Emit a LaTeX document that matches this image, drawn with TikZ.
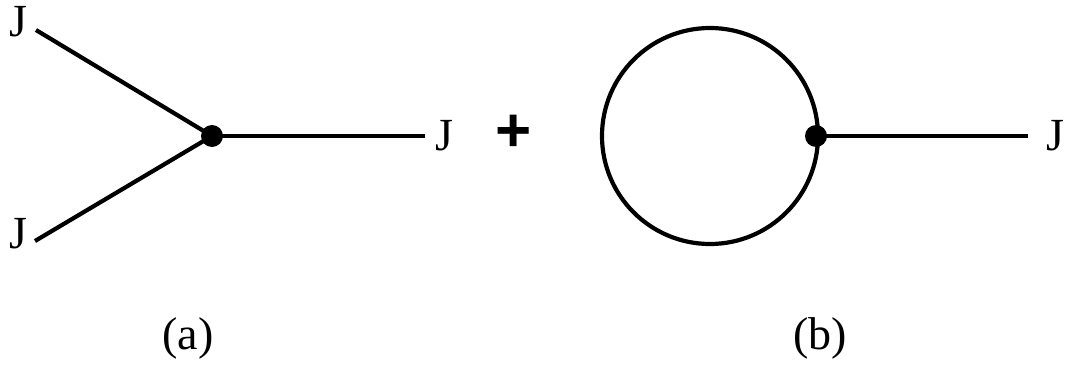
\documentclass[tikz,border=0pt]{standalone}
\usepackage{fontspec}
\setmainfont{Liberation Serif}
\newfontfamily\plusfont{Liberation Sans}
\begin{document}
\begin{tikzpicture}[x=1pt,y=-1pt,
  line/.style={line width=4.2pt},
  vdot/.style={circle,fill=black,inner sep=0pt,minimum size=22pt},
  lab/.style={inner sep=0pt,font=\fontsize{46}{52}\selectfont},
]
\useasboundingbox (0,0) rectangle (1068,367);
% (a)
\node[vdot] (va) at (212,136) {};
\coordinate (a1) at (36,30);
\coordinate (a2) at (35,241);
\coordinate (a3) at (425,136);
\draw[line] (a1) -- (va.center) -- (a2);
\draw[line] (va.center) -- (a3);
\node[lab] (j1) at (18,22) {J};
\node[lab] (j2) at (18,234) {J};
\node[lab] (j3) at (444,136) {J};
\node[inner sep=0pt,font=\plusfont\bfseries\fontsize{62}{68}\selectfont] (plus) at (514,133) {+};
% (b)
\node[vdot] (vb) at (816,136) {};
\node[circle,draw,line width=4.2pt,minimum size=216pt,inner sep=0pt] (loop) at (710,136) {};
\coordinate (b3) at (1028,136);
\draw[line] (vb.center) -- (b3);
\node[lab] (j4) at (1055,136) {J};
\node[lab] (la) at (188,338) {(a)};
\node[lab] (lb) at (820,338) {(b)};
\end{tikzpicture}
\end{document}
